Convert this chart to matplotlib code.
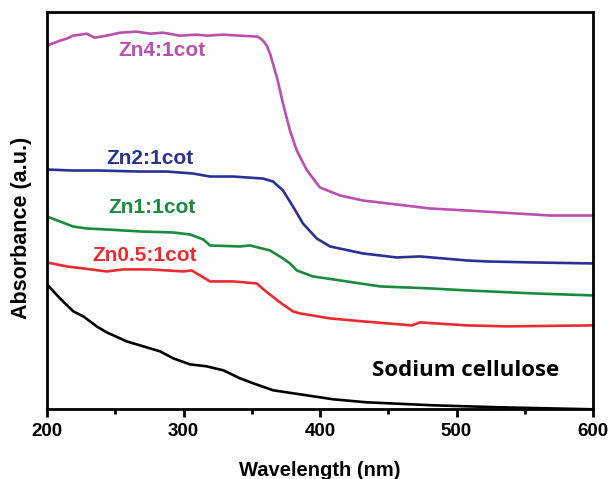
# UV-vis absorbance spectra of Zn/cotton samples
import matplotlib
matplotlib.use('Agg')
import matplotlib.pyplot as plt
from matplotlib.ticker import MultipleLocator

plt.rcParams['font.family'] = ['Liberation Sans', 'DejaVu Sans']
plt.rcParams['font.weight'] = 'bold'

# wavelength (nm) / absorbance (a.u.)
wl_zn4 = [200, 209.5, 214.4, 219, 229, 235, 243.7, 253.5, 265.7, 275.5, 285, 297.4, 309.7, 317,
          329, 341.4, 354.6, 358.2, 361, 363.4, 368.5, 372.9, 378, 383, 390.5, 400, 414.7, 431.5,
          456.4, 480.6, 507.7, 531.9, 568.5, 600]
ab_zn4 = [3.64, 3.69, 3.71, 3.74, 3.76, 3.72, 3.74, 3.77, 3.78, 3.76, 3.77, 3.74, 3.75, 3.74,
          3.75, 3.74, 3.73, 3.69, 3.64, 3.56, 3.32, 3.06, 2.79, 2.59, 2.39, 2.22, 2.14, 2.09,
          2.05, 2.01, 1.99, 1.97, 1.94, 1.94]

wl_zn2 = [200, 219, 238.8, 268, 287.7, 307, 319.4, 336.3, 358.2, 365.6, 372.9, 380.2, 387.5,
          397.6, 407.3, 431.5, 456.2, 473.3, 507.5, 522.1, 556, 600]
ab_zn2 = [2.40, 2.39, 2.39, 2.38, 2.38, 2.36, 2.33, 2.33, 2.31, 2.28, 2.19, 2.03, 1.86,
          1.71, 1.63, 1.56, 1.52, 1.53, 1.49, 1.48, 1.47, 1.46]

wl_zn1 = [200, 209.5, 219, 229, 243.7, 268.1, 292.3, 304.8, 314.5, 319.4, 341.4, 348.7, 363.4,
          372.9, 378, 383, 394.9, 419.6, 444, 480.6, 507.5, 556, 600]
ab_zn1 = [1.93, 1.88, 1.83, 1.81, 1.80, 1.78, 1.77, 1.75, 1.70, 1.64, 1.63, 1.64, 1.59,
          1.51, 1.46, 1.39, 1.33, 1.28, 1.23, 1.21, 1.19, 1.16, 1.14]

wl_zn05 = [200, 214.4, 226.6, 243.7, 255.9, 275.5, 299.9, 306, 312.1, 319.4, 336.5, 353.6,
           360.4, 370.7, 380.2, 385.3, 407.3, 431.5, 458.6, 467.4, 473.3, 507.5, 536.8, 600]
ab_zn05 = [1.47, 1.43, 1.41, 1.38, 1.40, 1.40, 1.38, 1.39, 1.34, 1.28, 1.28, 1.26,
           1.18, 1.07, 0.98, 0.96, 0.91, 0.88, 0.85, 0.84, 0.87, 0.84, 0.83, 0.84]

wl_na = [200, 209.5, 219.3, 226.6, 236.4, 243.7, 258.4, 268.1, 282.8, 292.5, 304.8, 317,
         329.2, 341.4, 351.1, 365.8, 385.3, 409.7, 434.2, 482.8, 531.9, 600]
ab_na = [1.25, 1.11, 0.98, 0.93, 0.83, 0.77, 0.68, 0.64, 0.58, 0.51, 0.45, 0.43,
         0.39, 0.31, 0.26, 0.19, 0.15, 0.10, 0.07, 0.04, 0.02, 0.00]

pink = '#BB4FAF'
blue = '#2B3192'
green = '#1B8A3C'
red = '#ED2B2E'

fig = plt.figure(figsize=(6.13, 4.79), dpi=100)
ax = fig.add_axes([0.0767, 0.1455, 0.8907, 0.8301])

kw = dict(lw=1.9, solid_joinstyle='round', solid_capstyle='round')
ax.plot(wl_zn4, ab_zn4, color=pink, **kw)
ax.plot(wl_zn2, ab_zn2, color=blue, **kw)
ax.plot(wl_zn1, ab_zn1, color=green, **kw)
ax.plot(wl_zn05, ab_zn05, color=red, **kw)
ax.plot(wl_na, ab_na, color='black', **kw)

ax.text(0.210, 0.902, 'Zn4:1cot', color=pink, fontsize=15, ha='center', va='center', transform=ax.transAxes)
ax.text(0.189, 0.630, 'Zn2:1cot', color=blue, fontsize=15, ha='center', va='center', transform=ax.transAxes)
ax.text(0.192, 0.508, 'Zn1:1cot', color=green, fontsize=15, ha='center', va='center', transform=ax.transAxes)
ax.text(0.178, 0.388, 'Zn0.5:1cot', color=red, fontsize=15, ha='center', va='center', transform=ax.transAxes)
ax.text(0.766, 0.097, 'Sodium cellulose', color='black', fontsize=16, family='Open Sans',
        fontweight='bold', ha='center', va='center', transform=ax.transAxes)

ax.set_xlim(200, 600)
ax.set_ylim(0, 3.98)
ax.xaxis.set_major_locator(MultipleLocator(100))
ax.xaxis.set_minor_locator(MultipleLocator(50))
ax.set_yticks([])
ax.tick_params(axis='x', which='major', length=6, width=2, labelsize=13.5, pad=4)
ax.tick_params(axis='x', which='minor', length=3.5, width=2)
for s in ax.spines.values():
    s.set_linewidth(2)

ax.set_xlabel('Wavelength (nm)', fontsize=14.5, fontweight='bold', labelpad=15)
ax.set_ylabel('Absorbance (a.u.)', fontsize=15.5, fontweight='bold')
ax.yaxis.set_label_coords(-0.028, 0.456)

fig.savefig('out.png', dpi=100)
